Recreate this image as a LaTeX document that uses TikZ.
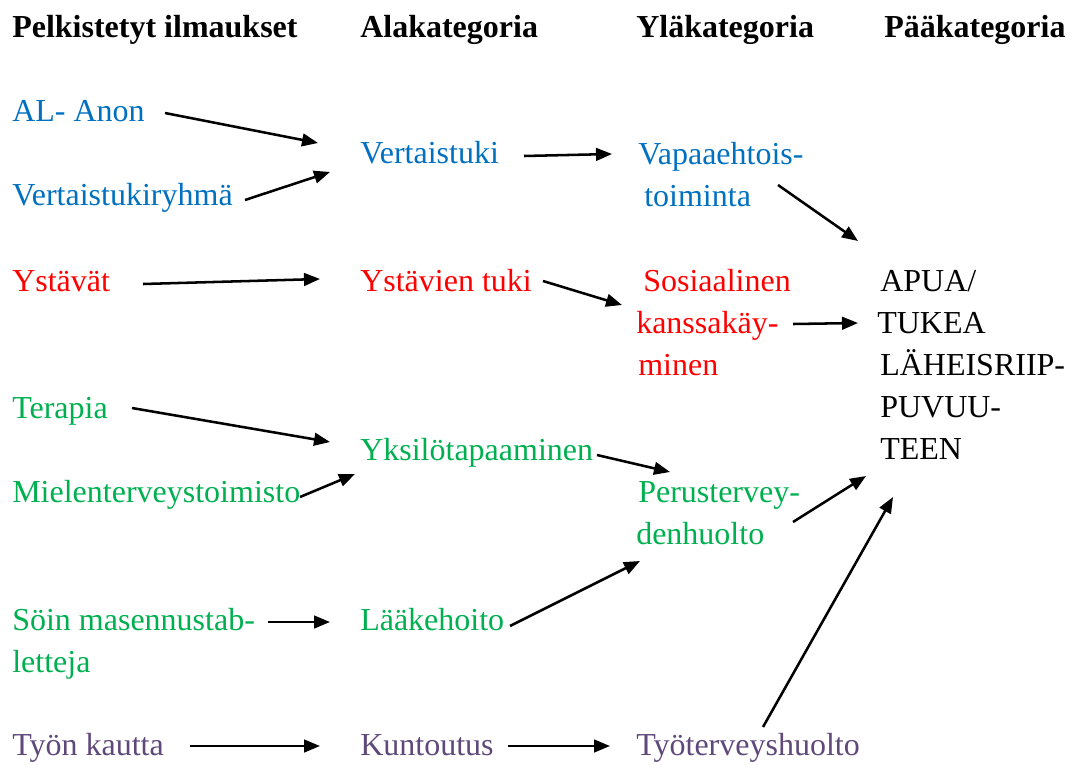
\documentclass[tikz,border=0pt]{standalone}
\usepackage{fontspec}
\setmainfont{Liberation Serif}
\usetikzlibrary{arrows.meta,calc}
\definecolor{cblue}{HTML}{0070C0}
\definecolor{cred}{HTML}{FF0000}
\definecolor{cgreen}{HTML}{00B050}
\definecolor{cpurple}{HTML}{5F497A}
\begin{document}
\begin{tikzpicture}[x=0.75pt,y=-0.75pt,
  txt/.style={inner sep=0pt, anchor=base west, font=\fontsize{24}{31.5}\selectfont},
  multi/.style={txt, align=left},
  hdr/.style={inner sep=0pt, anchor=base west, font=\fontsize{24}{31.5}\selectfont\bfseries},
  arr/.style={line width=1.9pt, -{Triangle[length=12pt,width=9.5pt]}}]
\useasboundingbox (0,0) rectangle (1070,764);
% headers
\node[hdr] (h1) at (12,37) {Pelkistetyt ilmaukset};
\node[hdr] (h2) at (360,37) {Alakategoria};
\node[hdr] (h3) at (636,37) {Yläkategoria};
\node[hdr] (h4) at (884,37) {Pääkategoria};
% blue (multi-line nodes are placed by the baseline of their last line)
\node[txt,text=cblue] (alanon) at (12,121) {AL- Anon};
\node[txt,text=cblue] (vgroup) at (12,205) {Vertaistukiryhmä};
\node[txt,text=cblue] (vtuki) at (360,163) {Vertaistuki};
\node[multi,text=cblue] (vapaa) at (638,206) {Vapaaehtois-\\\hspace*{4.5pt}toiminta};
% red
\node[txt,text=cred] (ystavat) at (12,291) {Ystävät};
\node[txt,text=cred] (ytuki) at (360,291) {Ystävien tuki};
\node[multi,text=cred] (sos) at (636,375) {\hspace*{5.25pt}Sosiaalinen\\kanssakäy-\\\hspace*{1.5pt}minen};
% black
\node[multi] (apua) at (880,459) {APUA/\\\hspace*{-2.25pt}TUKEA\\LÄHEISRIIP-\\PUVUU-\\TEEN};
% green
\node[txt,text=cgreen] (terapia) at (12,418) {Terapia};
\node[txt,text=cgreen] (mielen) at (12,502) {Mielenterveystoimisto};
\node[txt,text=cgreen] (yksilo) at (360,460) {Yksilötapaaminen};
\node[multi,text=cgreen] (peru) at (636,544) {\hspace*{1.5pt}Perustervey-\\denhuolto};
\node[multi,text=cgreen] (soin) at (12,672) {Söin masennustab-\\letteja};
\node[txt,text=cgreen] (laake) at (360,630) {Lääkehoito};
% purple
\node[txt,text=cpurple] (tyon) at (12,755) {Työn kautta};
\node[txt,text=cpurple] (kunt) at (360,755) {Kuntoutus};
\node[txt,text=cpurple] (tyoter) at (636,755) {Työterveyshuolto};
% arrows
\draw[arr] ($(alanon.base west)+(153,-8)$) -- ($(vtuki.base west)+(-42,-20)$);
\draw[arr] ($(vgroup.base west)+(233,-5)$) -- ($(vtuki.base west)+(-30,9)$);
\draw[arr] ($(vtuki.base west)+(164,-7)$) -- ($(vapaa.base west)+(-26,-52)$);
\draw[arr] ($(vapaa.base west)+(140,-21)$) -- ($(apua.base west)+(-22,-218)$);
\draw[arr] ($(ystavat.base west)+(131,-7)$) -- ($(ytuki.base west)+(-40,-12)$);
\draw[arr] ($(ytuki.base west)+(183,-10)$) -- ($(sos.base west)+(-14,-70)$);
\draw[arr] ($(sos.base west)+(157,-51)$) -- ($(apua.base west)+(-22,-136)$);
\draw[arr] ($(terapia.base west)+(120,-10)$) -- ($(yksilo.base west)+(-30,-18)$);
\draw[arr] ($(mielen.base west)+(288,-5)$) -- ($(yksilo.base west)+(-5,14)$);
\draw[arr] ($(yksilo.base west)+(237,-5)$) -- ($(peru.base west)+(34,-72)$);
\draw[arr] ($(peru.base west)+(157,-22)$) -- ($(apua.base west)+(-14,17)$);
\draw[arr] ($(laake.base west)+(150,-4)$) -- ($(peru.base west)+(4,17)$);
\draw[arr] ($(soin.base west)+(256,-50)$) -- ($(laake.base west)+(-30,-8)$);
\draw[arr] ($(tyon.base west)+(178,-9)$) -- ($(kunt.base west)+(-40,-9)$);
\draw[arr] ($(kunt.base west)+(148,-9)$) -- ($(tyoter.base west)+(-26,-9)$);
\draw[arr] ($(tyoter.base west)+(127,-28)$) -- ($(apua.base west)+(13,38)$);
\end{tikzpicture}
\end{document}
